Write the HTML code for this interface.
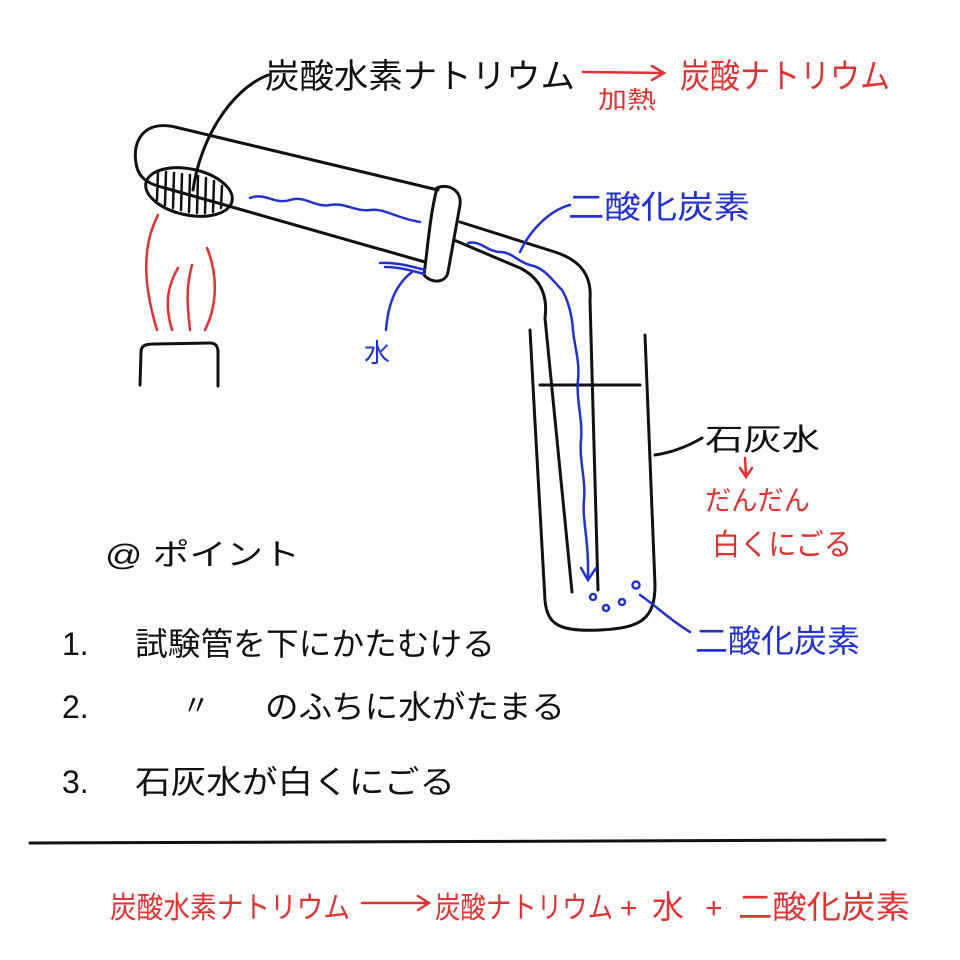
<!DOCTYPE html>
<html><head><meta charset="utf-8"><style>
html,body{margin:0;padding:0;background:#fff;}
svg{display:block;}
text{font-family:"Liberation Sans","Noto Sans CJK JP",sans-serif;}
</style></head><body>
<svg width="960" height="960" viewBox="0 0 960 960" xmlns="http://www.w3.org/2000/svg">
<g fill="none" stroke="#111" stroke-width="3" stroke-linecap="round" stroke-linejoin="round">
<!-- top leader -->
<path d="M193,190 C200,140 230,90 268,75"/>
<!-- test tube -->
<path d="M438,190 L175,127 C145,120 132,140 136,163 C138,178 148,184 165,188 L425,262"/>
<ellipse cx="189" cy="192" rx="44" ry="23" transform="rotate(12 189 192)"/>
<g stroke-width="2.5">
<path d="M158,172 L157,200 M166,172 L165,205 M174,173 L173,208 M182,174 L181,210 M190,175 L189,212 M198,176 L197,213 M206,178 L205,213 M214,181 L213,212 M222,186 L221,208"/>
</g>
<!-- stopper -->
<path d="M437,188 C448,183 462,190 460,205 L448,272 C446,283 432,284 424,275 C428,245 430,215 437,188 Z"/>
<!-- delivery pipe -->
<path d="M460,222 L555,252 C580,260 592,275 590,300 L598,590"/>
<path d="M454,240 L520,268 C540,278 548,295 545,318 L572,592"/>
<!-- beaker -->
<path d="M530,330 C535,420 540,520 545,600 C547,625 560,632 600,630 C640,628 655,620 655,585 C652,500 648,420 645,335"/>
<path d="M540,385 L640,385"/>
<!-- burner -->
<path d="M140,385 L141,352 C141,345 146,344 155,344 L210,343 C216,343 218,347 218,352 L218,386"/>
<!-- limewater leader -->
<path d="M655,455 C675,452 690,445 702,438"/>
<!-- divider -->
<path d="M30,843 L885,840"/>
</g>
<!-- flame -->
<g fill="none" stroke="#d33" stroke-width="2.5" stroke-linecap="round">
<path d="M158,215 C140,250 145,290 157,330"/>
<path d="M178,268 C165,290 166,310 172,330"/>
<path d="M192,265 C185,290 188,310 190,330"/>
<path d="M207,248 C220,280 215,310 205,330"/>
</g>
<!-- blue elements -->
<g fill="none" stroke="#2233cc" stroke-width="2.5" stroke-linecap="round">
<path d="M250,198 C265,192 275,205 290,200 C305,195 315,208 330,205 C345,202 355,212 370,210 C385,208 395,218 420,222"/>
<path d="M380,263 C395,262 410,266 425,270 M385,267 C398,267 410,270 424,274"/>
<path d="M412,272 C395,285 388,305 386,330"/>
<path d="M468,243 C480,240 488,252 500,252 C512,252 518,262 530,265 C545,268 552,280 562,290 C568,300 572,315 573,330 C574,345 580,360 578,380 C576,400 583,420 581,440 C579,460 586,480 584,500 C582,520 589,540 588,578"/>
<path d="M581,568 L588,580 L596,568"/>
<path d="M520,252 C530,230 550,210 570,205"/>
<path d="M640,595 C655,605 670,620 690,632"/>
<circle cx="593" cy="597" r="3"/><circle cx="606" cy="608" r="3"/><circle cx="622" cy="602" r="3"/><circle cx="636" cy="585" r="3.5"/>
</g>
<!-- red arrows -->
<g fill="none" stroke="#d33" stroke-width="2.5" stroke-linecap="round">
<path d="M583,72 L663,73 M652,66 L664,73 L652,80"/>
<path d="M745,458 L746,476 M740,468 L746,477 L752,468"/>
<path d="M362,903 L428,903 M418,896 L429,903 L418,910"/>
</g>
<!-- texts -->
<g fill="#111" font-size="34">
<text x="265" y="88" textLength="310" lengthAdjust="spacingAndGlyphs">炭酸水素ナトリウム</text>
<text x="705" y="450" font-size="30" textLength="115" lengthAdjust="spacingAndGlyphs">石灰水</text>
<text x="105" y="565" font-size="30" textLength="195" lengthAdjust="spacingAndGlyphs">@ ポイント</text>
<text x="62" y="655" font-size="32">1.</text>
<text x="135" y="655" font-size="32" textLength="360" lengthAdjust="spacingAndGlyphs">試験管を下にかたむける</text>
<text x="62" y="718" font-size="32">2.</text>
<text x="182" y="715" font-size="28">〃</text>
<text x="265" y="718" font-size="32" textLength="300" lengthAdjust="spacingAndGlyphs">のふちに水がたまる</text>
<text x="62" y="793" font-size="32">3.</text>
<text x="135" y="793" font-size="32" textLength="320" lengthAdjust="spacingAndGlyphs">石灰水が白くにごる</text>
</g>
<g fill="#d33">
<text x="598" y="108" font-size="24" textLength="58" lengthAdjust="spacingAndGlyphs">加熱</text>
<text x="680" y="88" font-size="34" textLength="210" lengthAdjust="spacingAndGlyphs">炭酸ナトリウム</text>
<text x="705" y="510" font-size="28" textLength="105" lengthAdjust="spacingAndGlyphs">だんだん</text>
<text x="712" y="555" font-size="30" textLength="140" lengthAdjust="spacingAndGlyphs">白くにごる</text>
<text x="110" y="918" font-size="30" textLength="240" lengthAdjust="spacingAndGlyphs">炭酸水素ナトリウム</text>
<text x="435" y="918" font-size="30" textLength="178" lengthAdjust="spacingAndGlyphs">炭酸ナトリウム</text>
<text x="620" y="918" font-size="30">+</text>
<text x="652" y="918" font-size="32">水</text>
<text x="705" y="918" font-size="30">+</text>
<text x="738" y="918" font-size="32" textLength="172" lengthAdjust="spacingAndGlyphs">二酸化炭素</text>
</g>
<g fill="#2233cc">
<text x="568" y="218" font-size="32" textLength="182" lengthAdjust="spacingAndGlyphs">二酸化炭素</text>
<text x="364" y="362" font-size="26">水</text>
<text x="695" y="652" font-size="32" textLength="165" lengthAdjust="spacingAndGlyphs">二酸化炭素</text>
</g>
</svg>
</body></html>
